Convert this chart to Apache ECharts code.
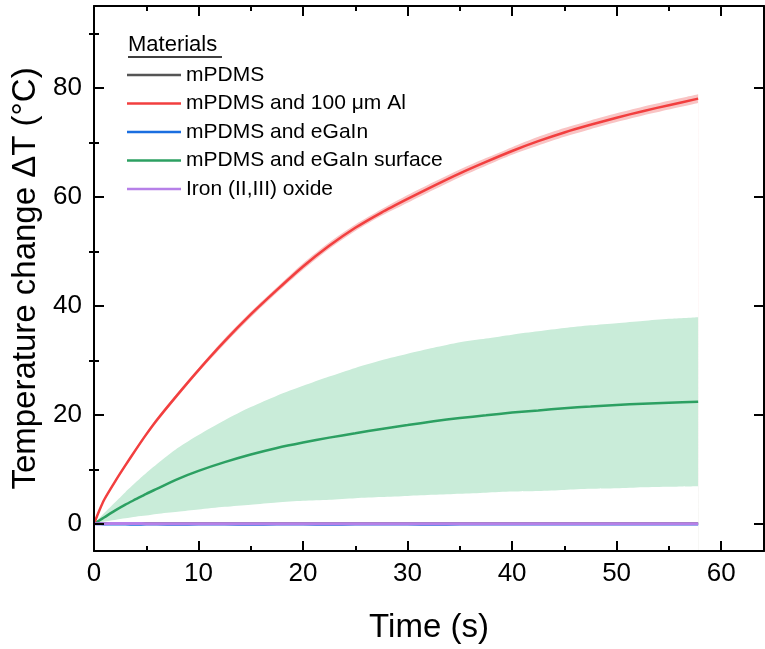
<!DOCTYPE html>
<html>
<head>
<meta charset="utf-8">
<script src="https://cdn.jsdelivr.net/npm/echarts@6/dist/echarts.min.js"></script>
<style>html,body{margin:0;padding:0;background:#fff}#c{width:765px;height:649px}</style>
</head>
<body>
<div id="c"></div>
<script>
// ---- data ----
const time = [0, 0.5, 1, 2, 3, 4, 5, 6, 8, 10, 12.5, 15, 17.5, 20, 22.5, 25, 27.5, 30, 32.5, 35, 37.5, 40, 42.5, 45, 47.5, 50, 52.5, 55, 57.8];
const alMean  = [0, 2.4, 4.5, 7.7, 10.7, 13.6, 16.4, 19.0, 23.7, 28.2, 33.5, 38.4, 42.9, 47.2, 51.0, 54.3, 57.1, 59.6, 62.0, 64.3, 66.4, 68.4, 70.2, 71.8, 73.2, 74.5, 75.7, 76.8, 78.0];
const alErr   = [0, 0.1, 0.2, 0.2, 0.3, 0.3, 0.3, 0.4, 0.4, 0.4, 0.5, 0.5, 0.5, 0.6, 0.6, 0.6, 0.6, 0.7, 0.7, 0.7, 0.7, 0.7, 0.8, 0.8, 0.8, 0.8, 0.8, 0.8, 0.8];
const surfMean  = [0, 0.6, 1.2, 2.4, 3.5, 4.5, 5.5, 6.4, 8.2, 9.7, 11.3, 12.7, 13.9, 14.9, 15.8, 16.6, 17.4, 18.1, 18.8, 19.4, 19.9, 20.4, 20.8, 21.2, 21.5, 21.8, 22.0, 22.2, 22.4];
const surfUpper = [0, 1.0, 2.0, 3.9, 5.8, 7.6, 9.3, 10.9, 13.9, 16.3, 19.0, 21.4, 23.5, 25.3, 27.0, 28.6, 30.0, 31.2, 32.3, 33.3, 34.0, 34.7, 35.3, 35.9, 36.4, 36.8, 37.2, 37.6, 37.9];
const surfLower = [0, 0.2, 0.4, 0.7, 1.0, 1.3, 1.5, 1.8, 2.2, 2.6, 3.1, 3.5, 3.9, 4.2, 4.4, 4.7, 4.9, 5.1, 5.3, 5.5, 5.7, 5.9, 6.0, 6.2, 6.4, 6.5, 6.7, 6.8, 6.9];
const pdmsMean  = [0, 0.05, 0.05, 0.05, 0.05, 0.05, 0.05, 0.05, 0.05, 0.05, 0.05, 0.05, 0.05, 0.05, 0.05, 0.05, 0.05, 0.05, 0.05, 0.05, 0.05, 0.05, 0.05, 0.05, 0.05, 0.05, 0.05, 0.05, 0.05];
const egainMean = [0, -0.05, -0.1, -0.1, -0.1, -0.15, -0.1, -0.1, -0.15, -0.1, -0.1, -0.15, -0.1, -0.1, -0.15, -0.1, -0.1, -0.1, -0.15, -0.1, -0.1, -0.1, -0.1, -0.1, -0.1, -0.1, -0.1, -0.1, -0.1];
const ironMean  = [0, 0, 0, 0.05, 0.05, 0.05, 0, 0, 0, 0, 0, 0, 0, 0, 0, 0, 0, 0, 0, 0, 0, 0, 0, 0, 0, 0, 0, 0, 0];
const names = ['mPDMS', 'mPDMS and 100 μm Al', 'mPDMS and eGaIn', 'mPDMS and eGaIn surface', 'Iron (II,III) oxide'];
const xMajorTicks = [0, 10, 20, 30, 40, 50, 60];
const yMajorTicks = [0, 20, 40, 60, 80];
const yMinorTicks = [10, 30, 50, 70, 90];

const colors = {pdms:'#555555', al:'#f23f3f', egain:'#1a6ee0', surf:'#2ca062', iron:'#b680e8'};
const pairs = arr => time.map((t, i) => [t, arr[i]]);
const FONT = 'Liberation Sans, Arial, sans-serif';
const SM = 0.25;

const chart = echarts.init(document.getElementById('c'), null, {renderer:'canvas'});
const lineSeries = (name, arr, color, w) => ({
  name, type:'line', data: pairs(arr), showSymbol:false, symbol:'none', smooth:SM,
  lineStyle:{color, width:w}, itemStyle:{color}, xAxisIndex:0, yAxisIndex:0, animation:false, z:3
});
// filled area from a boundary curve down to the axis minimum
const areaSeries = (arr, fill) => ({
  type:'line', data: pairs(arr), symbol:'none', showSymbol:false, smooth:SM,
  lineStyle:{width:0, opacity:0}, areaStyle:{color:fill, opacity:1, origin:'start'},
  silent:true, xAxisIndex:0, yAxisIndex:0, animation:false, z:1
});

const axisCommon = {
  z:10,
  axisLine:{show:true, onZero:false, lineStyle:{color:'#000', width:2}},
  splitLine:{show:false}
};

chart.setOption({
  animation:false,
  grid:{left:94, right:1, top:6, bottom:96, containLabel:false},
  xAxis:[
    Object.assign({}, axisCommon, {
      type:'value', position:'bottom', min:0, max:64.1, interval:10,
      name:'Time (s)', nameLocation:'middle', nameGap:60,
      nameTextStyle:{fontSize:33, color:'#000', fontFamily:FONT},
      axisTick:{show:true, inside:true, length:10, lineStyle:{color:'#000', width:2}},
      minorTick:{show:true, splitNumber:2, length:5, lineStyle:{color:'#000', width:2}},
      axisLabel:{fontSize:26, color:'#000', fontFamily:FONT, margin:10, customValues:xMajorTicks}
    }),
    Object.assign({}, axisCommon, {
      type:'value', position:'top', min:0, max:64.1, interval:10,
      axisTick:{show:true, inside:true, length:10, lineStyle:{color:'#000', width:2}},
      minorTick:{show:true, splitNumber:2, length:5, lineStyle:{color:'#000', width:2}},
      axisLabel:{show:false}
    })
  ],
  yAxis:[
    Object.assign({}, axisCommon, {
      type:'value', position:'left', min:-5, max:95,
      name:'Temperature change ΔT (°C)', nameLocation:'middle', nameGap:46,
      nameTextStyle:{fontSize:33, color:'#000', fontFamily:FONT},
      axisTick:{show:true, inside:true, length:10, lineStyle:{color:'#000', width:2}, customValues:yMajorTicks},
      axisLabel:{fontSize:26, color:'#000', fontFamily:FONT, margin:12, customValues:yMajorTicks}
    }),
    {
      type:'value', position:'left', min:-5, max:95, z:10,
      axisLine:{show:false}, splitLine:{show:false}, axisLabel:{show:false},
      axisTick:{show:true, inside:true, length:5, lineStyle:{color:'#000', width:2}, customValues:yMinorTicks}
    },
    Object.assign({}, axisCommon, {
      type:'value', position:'right', min:-5, max:95,
      axisTick:{show:true, inside:true, length:10, lineStyle:{color:'#000', width:2}, customValues:yMajorTicks},
      axisLabel:{show:false}
    }),
    {
      type:'value', position:'right', min:-5, max:95, z:10,
      axisLine:{show:false}, splitLine:{show:false}, axisLabel:{show:false},
      axisTick:{show:true, inside:true, length:5, lineStyle:{color:'#000', width:2}, customValues:yMinorTicks}
    }
  ],
  legend:{
    data:names, orient:'vertical', left:127, top:64, padding:0,
    itemWidth:54, itemHeight:2.5, itemGap:6.5, icon:'rect',
    textStyle:{fontSize:21, color:'#000', fontFamily:FONT, lineHeight:22},
    selectedMode:false
  },
  graphic:[
    {type:'text', left:128, top:34, style:{text:'Materials', fontSize:22, fontFamily:FONT, fill:'#000'}},
    {type:'line', shape:{x1:128, y1:57, x2:222, y2:57}, style:{stroke:'#000', lineWidth:1.5}}
  ],
  series:[
    areaSeries(alMean.map((m, i) => m + alErr[i]), '#f9c4c4'),
    areaSeries(alMean.map((m, i) => m - alErr[i]), '#ffffff'),
    areaSeries(surfUpper, '#c9ecd9'),
    areaSeries(surfLower, '#ffffff'),
    lineSeries(names[3], surfMean, colors.surf, 2.5),
    lineSeries(names[1], alMean, colors.al, 2.5),
    lineSeries(names[0], pdmsMean, colors.pdms, 2.5),
    lineSeries(names[2], egainMean, colors.egain, 2.5),
    lineSeries(names[4], ironMean, colors.iron, 3)
  ]
});
</script>
</body>
</html>
